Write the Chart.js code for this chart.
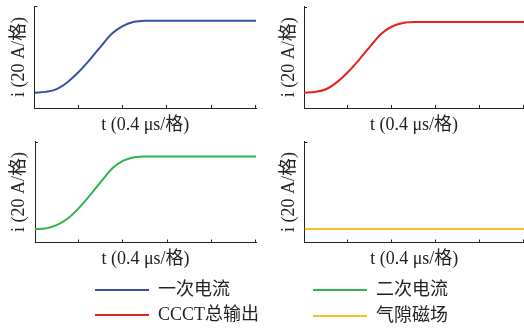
<!DOCTYPE html>
<html>
<head>
<meta charset="utf-8">
<script src="https://cdn.jsdelivr.net/npm/chart.js@4.4.1/dist/chart.umd.min.js"></script>
<style>
  body { margin: 0; background: #fff; }
  #wrap { position: relative; width: 524px; height: 329px; overflow: hidden; }
  canvas { position: absolute; }
  .leg { position: absolute; font: 18px "Liberation Serif", "Noto Sans CJK SC", serif; color: #222; white-space: nowrap; line-height: 20px; }
  .ln { position: absolute; height: 2px; width: 54px; }
</style>
</head>
<body>
<div id="wrap">
  <canvas id="c1" width="262" height="138" style="left:0;top:0"></canvas>
  <canvas id="c2" width="262" height="138" style="left:262px;top:0"></canvas>
  <canvas id="c3" width="262" height="138" style="left:0;top:135px"></canvas>
  <canvas id="c4" width="262" height="138" style="left:262px;top:135px"></canvas>
  <div id="legend"></div>
</div>
<script>
// time in divisions (0.4 us per division), current in divisions (20 A per division)
const tRise = [0, 0.25, 0.5, 0.75, 1.0, 1.25, 1.5, 1.75, 2.0, 2.25, 2.5, 2.75, 5.0]
const iPrimary   = [1.50, 1.58, 1.85, 2.55, 3.55, 4.75, 6.05, 7.30, 8.06, 8.45, 8.55, 8.56, 8.56]
const iOutput    = [1.50, 1.58, 1.85, 2.55, 3.55, 4.75, 6.05, 7.30, 8.03, 8.38, 8.47, 8.48, 8.48]
const iSecondary = [1.33, 1.40, 1.75, 2.40, 3.45, 4.72, 6.05, 7.35, 8.10, 8.45, 8.52, 8.52, 8.52]
const tGap = [0, 5]
const iGap = [1.33, 1.33]

const names = ['一次电流', '二次电流', 'CCCT总输出', '气隙磁场']
const colors = ['#3a4fa6', '#2db548', '#e8211f', '#f8bf2c']
const xTitle = 't (0.4 μs/格)'
const yTitle = 'i (20 A/格)'

const fontFam = '"Liberation Serif", "Noto Sans CJK SC", serif'

function pts(xs, ys) {
    return xs.map((x, k) => ({x: x, y: ys[k]}))
}

// small inward tick marks like the original figure
const innerTicks = {
    id: 'innerTicks',
    afterDraw(chart) {
        const ctx = chart.ctx
        const xs = chart.scales.x, ys = chart.scales.y
        ctx.save()
        ctx.strokeStyle = '#222'
        ctx.lineWidth = 1
        ctx.beginPath()
        xs.ticks.forEach(t => {
            if (t.value === 0) return
            let px = Math.round(xs.getPixelForValue(t.value)) - 0.5
            ctx.moveTo(px, ys.bottom)
            ctx.lineTo(px, ys.bottom - 3)
        })
        let top = Math.round(ys.top) + 0.5
        ctx.moveTo(xs.left, top)
        ctx.lineTo(xs.left + 3, top)
        ctx.stroke()
        ctx.restore()
    }
}

function makePanel(id, data, color, cfg) {
    let obj = {
        type: 'line',
        data: {
            datasets: [{
                data: data,
                borderColor: color,
                borderWidth: 2,
                pointRadius: 0,
                fill: false,
                cubicInterpolationMode: 'monotone'
            }]
        },
        options: {
            responsive: false,
            animation: false,
            devicePixelRatio: 1,
            layout: {padding: {top: cfg.top, right: cfg.right, left: 0, bottom: 0}},
            plugins: {legend: {display: false}, tooltip: {enabled: false}},
            scales: {
                x: {
                    type: 'linear', min: 0, max: 5,
                    ticks: {display: false, stepSize: 1},
                    grid: {display: false},
                    border: {color: '#222', width: 1},
                    title: {display: true, text: xTitle, color: '#222',
                        font: {family: fontFam, size: 18, lineHeight: 1}, padding: {top: 0, bottom: cfg.xPad}},
                    afterFit: s => { s.height = cfg.xh }
                },
                y: {
                    min: 0, max: 10,
                    ticks: {display: false},
                    grid: {display: false},
                    border: {color: '#222', width: 1},
                    title: {display: true, text: yTitle, color: '#222',
                        font: {family: fontFam, size: 18, lineHeight: 1}, padding: {top: cfg.yPad, bottom: 0}},
                    afterFit: s => { s.width = cfg.yw }
                }
            }
        },
        plugins: [innerTicks]
    }
    return new Chart(document.getElementById(id).getContext('2d'), obj)
}

makePanel('c1', pts(tRise, iPrimary), colors[0], {top: 6, right: 6, xh: 30, xPad: 4, yw: 34.5, yPad: 10.5})
makePanel('c2', pts(tRise, iOutput), colors[2], {top: 6.5, right: 0, xh: 30, xPad: 4, yw: 42, yPad: 18})
makePanel('c3', pts(tRise, iSecondary), colors[1], {top: 6.5, right: 6, xh: 30.5, xPad: 4.5, yw: 35, yPad: 10.5})
makePanel('c4', pts(tGap, iGap), colors[3], {top: 6.5, right: 0, xh: 30.5, xPad: 4.5, yw: 42.5, yPad: 18})

// legend, two columns: [primary, secondary] / [output, gap]
const legPos = [[95, 290], [313, 290], [95, 315], [313, 316]]
let str = ''
names.forEach((name, k) => {
    let p = legPos[k]
    str += `<span class="ln" style="left:${p[0]}px;top:${p[1] - 1}px;background:${colors[k]}"></span>`
    str += `<div class="leg" style="left:${p[0] + 63}px;top:${p[1] - 11}px">${name}</div>`
})
document.getElementById('legend').innerHTML = str
</script>
</body>
</html>
